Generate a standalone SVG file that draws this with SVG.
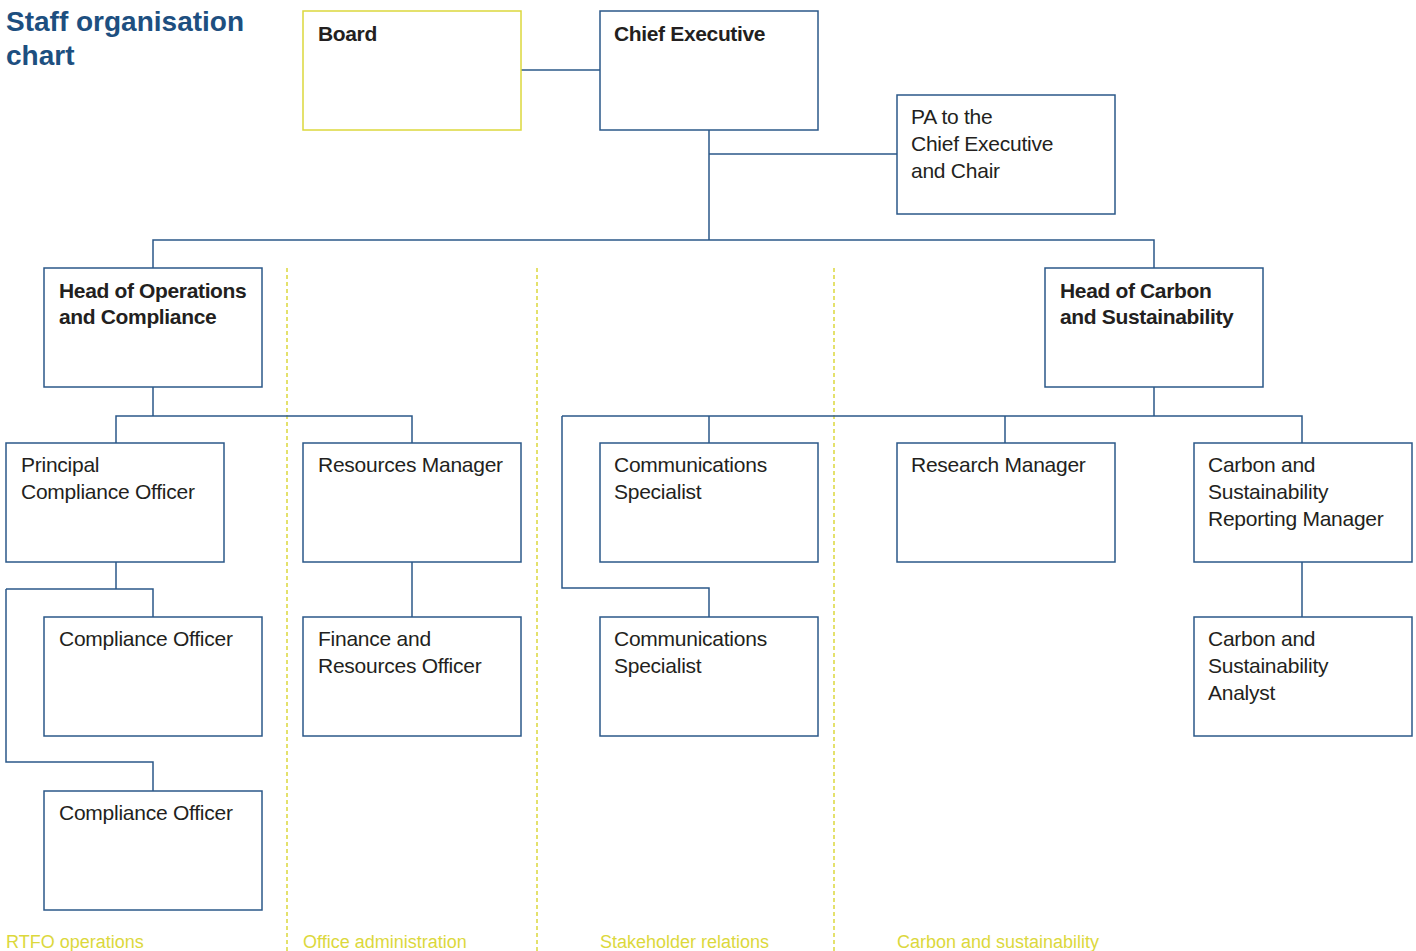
<svg xmlns="http://www.w3.org/2000/svg" width="1416" height="951" viewBox="0 0 1416 951">
<style>
.box{fill:#fff;stroke:#2b5889;stroke-width:1.5}
.ybox{fill:#fff;stroke:#dcd83c;stroke-width:1.5}
.conn{fill:none;stroke:#2b5889;stroke-width:1.5}
.dash{fill:none;stroke:#dcd83c;stroke-width:1.5;stroke-dasharray:4 3}
.t{font-family:"Liberation Sans",Arial,sans-serif;font-size:21px;fill:#231f20;letter-spacing:-0.25px}
.b{font-weight:bold;letter-spacing:-0.35px}
.title{font-family:"Liberation Sans",Arial,sans-serif;font-size:28px;font-weight:bold;fill:#1d4f80}
.lab{font-family:"Liberation Sans",Arial,sans-serif;font-size:18px;fill:#dcd83c}
</style>
<rect width="1416" height="951" fill="#fff"/>
<text class="title" x="6" y="31">Staff organisation</text>
<text class="title" x="6" y="65">chart</text>
<g id="dividers">
<line class="dash" x1="287" y1="268" x2="287" y2="951"/>
<line class="dash" x1="537" y1="268" x2="537" y2="951"/>
<line class="dash" x1="834" y1="268" x2="834" y2="951"/>
</g>
<g id="connectors">
<path class="conn" d="M521 70H600"/>
<path class="conn" d="M709 130V240M709 154H897"/>
<path class="conn" d="M153 268V240H1154V268"/>
<path class="conn" d="M153 387V416M116 443V416H412V443"/>
<path class="conn" d="M1154 387V416M562 416H1302V443M709 416V443M1005 416V443"/>
<path class="conn" d="M562 416V588H709V617"/>
<path class="conn" d="M1302 562V617"/>
<path class="conn" d="M412 562V617"/>
<path class="conn" d="M116 562V589H153V617M6 589H116M6 589V762H153V791"/>
</g>
<g id="board"><rect class="ybox" x="303" y="11" width="218" height="119"/><text class="t b" x="318" y="41">Board</text></g>
<g id="ceo"><rect class="box" x="600" y="11" width="218" height="119"/><text class="t b" x="614" y="41">Chief Executive</text></g>
<g id="pa"><rect class="box" x="897" y="95" width="218" height="119"/><text class="t" x="911" y="124">PA to the</text><text class="t" x="911" y="151">Chief Executive</text><text class="t" x="911" y="178">and Chair</text></g>
<g id="head-ops"><rect class="box" x="44" y="268" width="218" height="119"/><text class="t b" x="59" y="298">Head of Operations</text><text class="t b" x="59" y="324">and Compliance</text></g>
<g id="head-carbon"><rect class="box" x="1045" y="268" width="218" height="119"/><text class="t b" x="1060" y="298">Head of Carbon</text><text class="t b" x="1060" y="324">and Sustainability</text></g>
<g id="pco"><rect class="box" x="6" y="443" width="218" height="119"/><text class="t" x="21" y="472">Principal</text><text class="t" x="21" y="499">Compliance Officer</text></g>
<g id="res-mgr"><rect class="box" x="303" y="443" width="218" height="119"/><text class="t" x="318" y="472">Resources Manager</text></g>
<g id="comms1"><rect class="box" x="600" y="443" width="218" height="119"/><text class="t" x="614" y="472">Communications</text><text class="t" x="614" y="499">Specialist</text></g>
<g id="research"><rect class="box" x="897" y="443" width="218" height="119"/><text class="t" x="911" y="472">Research Manager</text></g>
<g id="csr-mgr"><rect class="box" x="1194" y="443" width="218" height="119"/><text class="t" x="1208" y="472">Carbon and</text><text class="t" x="1208" y="499">Sustainability</text><text class="t" x="1208" y="526">Reporting Manager</text></g>
<g id="co1"><rect class="box" x="44" y="617" width="218" height="119"/><text class="t" x="59" y="646">Compliance Officer</text></g>
<g id="finance"><rect class="box" x="303" y="617" width="218" height="119"/><text class="t" x="318" y="646">Finance and</text><text class="t" x="318" y="673">Resources Officer</text></g>
<g id="comms2"><rect class="box" x="600" y="617" width="218" height="119"/><text class="t" x="614" y="646">Communications</text><text class="t" x="614" y="673">Specialist</text></g>
<g id="analyst"><rect class="box" x="1194" y="617" width="218" height="119"/><text class="t" x="1208" y="646">Carbon and</text><text class="t" x="1208" y="673">Sustainability</text><text class="t" x="1208" y="700">Analyst</text></g>
<g id="co2"><rect class="box" x="44" y="791" width="218" height="119"/><text class="t" x="59" y="820">Compliance Officer</text></g>
<g id="labels">
<text class="lab" x="6" y="948">RTFO operations</text>
<text class="lab" x="303" y="948">Office administration</text>
<text class="lab" x="600" y="948">Stakeholder relations</text>
<text class="lab" x="897" y="948">Carbon and sustainability</text>
</g>
</svg>
